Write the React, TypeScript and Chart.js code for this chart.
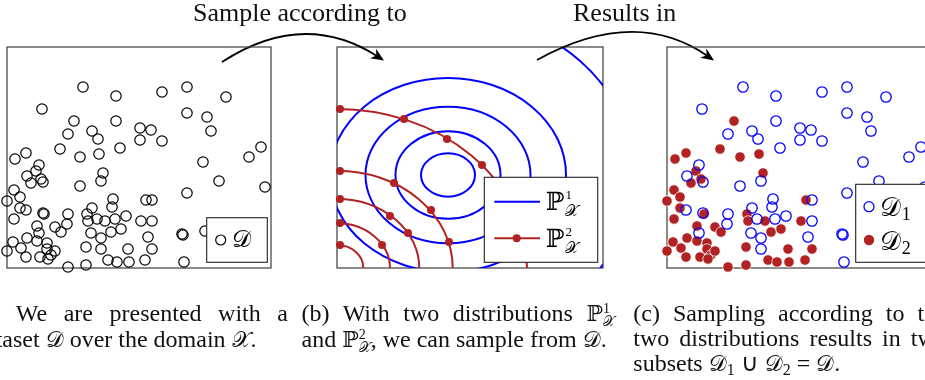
import React, { useEffect, useRef } from "react";
import { Chart, registerables } from "chart.js";
Chart.register(...registerables);

// ---- data (panel units: x 0..264, y 0..221, origin at the bottom-left of each frame) ----
// subset D1 (blue open circles in panel c)
const d1X = [76, 109, 35, 109, 61, 85, 91, 133, 133, 113, 32, 20, 36, 94, 73, 19, 36, 61, 60, 32, 94, 94, 84, 85, 90, 106, 105, 108, 119,
  155, 180, 219, 180, 200, 204, 144, 155, 254, 242, 196, 212, 258, 180, 145, 145, 141, 175, 176, 198, 177];
const d1Y = [181, 172, 159, 147, 134, 137, 129, 140, 128, 120, 103, 92, 86, 87, 82, 58, 55, 54, 44, 35, 19, 30, 35, 60, 49, 69, 61, 49, 52,
  176, 181, 171, 155, 151, 137, 138, 127, 121, 111, 106, 87, 81, 75, 68, 47, 31, 34, 33, 37, 6];
// subset D2 (red filled dots in panel c)
const d2X = [67, 53, 73, 92, 8, 19, 29, 24, 34, 96, 7, 13, 0, 13, 7, 37, 48, 54, 30, 20, 6, 0, 14, 19, 30, 40, 33, 40, 44, 48, 41, 61, 79,
  79, 80, 81, 98, 104, 114, 121, 101, 110, 122, 139, 134, 145, 138];
const d2Y = [147, 119, 111, 114, 109, 115, 97, 85, 89, 95, 78, 71, 67, 60, 49, 54, 41, 36, 42, 30, 26, 17, 20, 11, 27, 25, 11, 19, 13, 17, 9, 1, 3,
  21, 54, 47, 47, 36, 39, 19, 8, 6, 6, 68, 47, 19, 8];

// distribution P1 (blue contours) and P2 (red contours), panel b units (x 0..266, y 0..221)
const p1Center = [111, 93];
const p1RadX = [27, 52.5, 82.5, 118, 186];
const p1RadY = [21.7, 43.8, 68.3, 97, 162];
const p2Center = [0, 0];
const p2RadX = [26.3, 53, 82.3, 115.7, 190];
const p2RadY = [23, 44.7, 69, 97.3, 159];
const p2MarkX = [3, 67, 110, 145, 3, 57, 94, 112, 3, 53, 71, 3, 45, 3];
const p2MarkY = [159, 149, 129, 103, 97, 85, 58, 26, 69, 52, 35, 45, 23, 23];

const BLUE = "#0000ff";
const RED = "#b22222";
const SERIF = "'Liberation Serif', 'Times New Roman', serif";
const MATH = "'DejaVu Serif', 'DejaVu Sans', serif";

const pts = (xs: number[], ys: number[]) => xs.map((x, i) => ({ x, y: ys[i] }));

const CW = 945, CH = 380;

function baseOptions(box: { l: number; t: number; r: number; b: number }, xMax: number) {
  return {
    responsive: false,
    animation: false as const,
    devicePixelRatio: 1,
    events: [] as any[],
    layout: { padding: { left: box.l, top: box.t, right: CW - box.r, bottom: CH - box.b } },
    plugins: { legend: { display: false }, tooltip: { enabled: false } },
    scales: {
      x: { type: "linear" as const, min: 0, max: xMax, display: false },
      y: { type: "linear" as const, min: 0, max: 221, display: false },
    },
  };
}

const framePlugin = {
  id: "frame",
  beforeDatasetsDraw(chart: any) {
    const { ctx, chartArea: a } = chart;
    ctx.save();
    ctx.strokeStyle = "#3c3c3c";
    ctx.lineWidth = 1.2;
    ctx.strokeRect(a.left, a.top, a.right - a.left, a.bottom - a.top);
    ctx.restore();
  },
};

function box(ctx: CanvasRenderingContext2D, l: number, t: number, w: number, h: number) {
  ctx.fillStyle = "#fff";
  ctx.fillRect(l, t, w, h);
  ctx.strokeStyle = "#222";
  ctx.lineWidth = 1.1;
  ctx.strokeRect(l, t, w, h);
}

function mathP(ctx: CanvasRenderingContext2D, x: number, base: number, sup: string) {
  ctx.fillStyle = "#000";
  ctx.textAlign = "left";
  ctx.textBaseline = "alphabetic";
  ctx.font = `25px ${MATH}`;
  ctx.fillText("ℙ", x, base);
  const w = ctx.measureText("ℙ").width;
  ctx.font = `13px ${SERIF}`;
  ctx.fillText(sup, x + w + 1, base - 11);
  ctx.font = `16px ${MATH}`;
  ctx.fillText("𝒳", x + w, base + 6);
}

function mathD(ctx: CanvasRenderingContext2D, x: number, base: number, size: number, sub?: string) {
  ctx.fillStyle = "#000";
  ctx.textAlign = "left";
  ctx.textBaseline = "alphabetic";
  ctx.font = `${size}px ${MATH}`;
  ctx.fillText("𝒟", x, base);
  if (sub) {
    const w = ctx.measureText("𝒟").width;
    ctx.font = `${Math.round(size * 0.68)}px ${SERIF}`;
    ctx.fillText(sub, x + w + 1, base + 4);
  }
}

const legendA = {
  id: "legendA",
  afterDatasetsDraw(chart: any) {
    const { ctx, chartArea: a } = chart;
    ctx.save();
    const L = a.right - 64.3, T = a.bottom - 50.3;
    box(ctx, L, T, 60.6, 44.6);
    ctx.beginPath();
    ctx.arc(L + 14, T + 22.3, 5, 0, Math.PI * 2);
    ctx.strokeStyle = "#000";
    ctx.lineWidth = 1.2;
    ctx.stroke();
    mathD(ctx, L + 25, T + 29, 24);
    ctx.restore();
  },
};

const legendC = {
  id: "legendC",
  afterDatasetsDraw(chart: any) {
    const { ctx, chartArea: a } = chart;
    ctx.save();
    const L = a.left + 188.7, T = a.top + 137.3;
    box(ctx, L, T, 80, 78);
    ctx.beginPath();
    ctx.arc(L + 13.3, T + 22.4, 5, 0, Math.PI * 2);
    ctx.strokeStyle = BLUE;
    ctx.lineWidth = 1.3;
    ctx.stroke();
    ctx.beginPath();
    ctx.arc(L + 13.3, T + 55.7, 5.2, 0, Math.PI * 2);
    ctx.fillStyle = RED;
    ctx.fill();
    mathD(ctx, L + 24, T + 32, 26, "1");
    mathD(ctx, L + 24, T + 66, 26, "2");
    ctx.restore();
  },
};

const contours = {
  id: "contours",
  beforeDatasetsDraw(chart: any) {
    const { ctx, chartArea: a, scales } = chart;
    const xs = scales.x, ys = scales.y;
    ctx.save();
    ctx.beginPath();
    ctx.rect(a.left, a.top, a.right - a.left, a.bottom - a.top);
    ctx.clip();
    const draw = (c: number[], rxs: number[], rys: number[], color: string) => {
      const cx = xs.getPixelForValue(c[0]);
      const cy = ys.getPixelForValue(c[1]);
      rxs.forEach((r, i) => {
        const rx = xs.getPixelForValue(c[0] + r) - cx;
        const ry = cy - ys.getPixelForValue(c[1] + rys[i]);
        ctx.beginPath();
        ctx.ellipse(cx, cy, rx, ry, 0, 0, Math.PI * 2);
        ctx.strokeStyle = color;
        ctx.lineWidth = 2;
        ctx.stroke();
      });
    };
    draw(p1Center, p1RadX, p1RadY, BLUE);
    draw(p2Center, p2RadX, p2RadY, RED);
    ctx.restore();
  },
};

const legendB = {
  id: "legendB",
  afterDatasetsDraw(chart: any) {
    const { ctx, chartArea: a } = chart;
    ctx.save();
    const L = a.right - 118.7, T = a.bottom - 90.7;
    box(ctx, L, T, 113.4, 85);
    ctx.lineWidth = 2;
    ctx.strokeStyle = BLUE;
    ctx.beginPath();
    ctx.moveTo(L + 10, T + 24.4);
    ctx.lineTo(L + 55.7, T + 24.4);
    ctx.stroke();
    ctx.strokeStyle = RED;
    ctx.beginPath();
    ctx.moveTo(L + 10, T + 61);
    ctx.lineTo(L + 55.7, T + 61);
    ctx.stroke();
    ctx.beginPath();
    ctx.arc(L + 32.4, T + 61, 4, 0, Math.PI * 2);
    ctx.fillStyle = RED;
    ctx.fill();
    mathP(ctx, L + 61.5, T + 32.7, "1");
    mathP(ctx, L + 61.5, T + 69.4, "2");
    ctx.restore();
  },
};

function arrow(ctx: CanvasRenderingContext2D, p0: number[], c: number[], p2: number[]) {
  const ang = Math.atan2(p2[1] - c[1], p2[0] - c[0]);
  const L = 13, Wd = 5.5;
  const ux = Math.cos(ang), uy = Math.sin(ang);
  ctx.strokeStyle = "#000";
  ctx.lineWidth = 1.8;
  ctx.beginPath();
  ctx.moveTo(p0[0], p0[1]);
  ctx.quadraticCurveTo(c[0], c[1], p2[0] - ux * 8, p2[1] - uy * 8);
  ctx.stroke();
  ctx.fillStyle = "#000";
  ctx.beginPath();
  ctx.moveTo(p2[0], p2[1]);
  ctx.lineTo(p2[0] - ux * L - uy * Wd, p2[1] - uy * L + ux * Wd);
  ctx.lineTo(p2[0] - ux * L * 0.7, p2[1] - uy * L * 0.7);
  ctx.lineTo(p2[0] - ux * L + uy * Wd, p2[1] - uy * L - ux * Wd);
  ctx.closePath();
  ctx.fill();
}

const arrows = {
  id: "arrows",
  afterDraw(chart: any) {
    const { ctx } = chart;
    ctx.save();
    arrow(ctx, [222, 62], [303.5, 9], [384, 60.5]);
    arrow(ctx, [537, 60], [635, 6], [714, 60.5]);
    ctx.restore();
  },
};

const cap: React.CSSProperties = {
  position: "absolute",
  fontFamily: SERIF,
  fontSize: 24,
  lineHeight: "24px",
  whiteSpace: "nowrap",
  color: "#111",
};
const just: React.CSSProperties = { textAlign: "justify", textAlignLast: "justify" as any, whiteSpace: "normal" };

const M = ({ children }: { children: React.ReactNode }) => (
  <span style={{ fontFamily: MATH, fontSize: 22 }}>{children}</span>
);
const PX = ({ n }: { n: string }) => (
  <span style={{ whiteSpace: "nowrap" }}>
    <span style={{ fontFamily: MATH, fontSize: 22 }}>ℙ</span>
    <span style={{ display: "inline-block", verticalAlign: "-5px", fontSize: 14, lineHeight: "13px", textAlign: "left" }}>
      <span style={{ display: "block", fontFamily: SERIF }}>{n}</span>
      <span style={{ display: "block", fontFamily: MATH }}>𝒳</span>
    </span>
  </span>
);
const Sub = ({ n }: { n: string }) => (
  <span style={{ fontSize: 16, verticalAlign: "-4px" }}>{n}</span>
);

export default function App() {
  const ra = useRef<HTMLCanvasElement>(null);
  const rb = useRef<HTMLCanvasElement>(null);
  const rc = useRef<HTMLCanvasElement>(null);

  useEffect(() => {
    const allPts = pts(d1X, d1Y).concat(pts(d2X, d2Y));
    const chartA = new Chart(ra.current!, {
      type: "scatter",
      data: {
        datasets: [
          {
            data: allPts,
            pointRadius: 5.2,
            pointBorderWidth: 1.2,
            pointBorderColor: "#000",
            pointBackgroundColor: "rgba(0,0,0,0)",
            clip: false as any,
          },
        ],
      },
      options: baseOptions({ l: 7, t: 47, r: 271, b: 268 }, 264) as any,
      plugins: [framePlugin, legendA],
    });
    const chartB = new Chart(rb.current!, {
      type: "scatter",
      data: {
        datasets: [
          {
            data: pts(p2MarkX, p2MarkY),
            pointRadius: 4,
            pointBorderWidth: 0,
            pointBackgroundColor: RED,
            clip: false as any,
          },
        ],
      },
      options: baseOptions({ l: 337, t: 47, r: 603, b: 268 }, 266) as any,
      plugins: [framePlugin, contours, legendB, arrows],
    });
    const chartC = new Chart(rc.current!, {
      type: "scatter",
      data: {
        datasets: [
          {
            data: pts(d1X, d1Y),
            pointRadius: 5.2,
            pointBorderWidth: 1.3,
            pointBorderColor: BLUE,
            pointBackgroundColor: "rgba(0,0,0,0)",
            clip: false as any,
          },
          {
            data: pts(d2X, d2Y),
            pointRadius: 5.2,
            pointBorderWidth: 0.8,
            pointBorderColor: "rgba(255,255,255,0.9)",
            pointBackgroundColor: RED,
            clip: false as any,
          },
        ],
      },
      options: baseOptions({ l: 667, t: 47, r: 931, b: 268 }, 264) as any,
      plugins: [framePlugin, legendC],
    });
    return () => {
      chartA.destroy();
      chartB.destroy();
      chartC.destroy();
    };
  }, []);

  const cv: React.CSSProperties = { position: "absolute", left: 0, top: 0 };

  return (
    <div style={{ position: "fixed", left: 0, top: 0, width: 925, height: 380, overflow: "hidden", background: "#fff" }}>
      <canvas ref={rb} width={CW} height={CH} style={cv} />
      <canvas ref={ra} width={CW} height={CH} style={cv} />
      <canvas ref={rc} width={CW} height={CH} style={cv} />

      <div style={{ ...cap, fontSize: 26, lineHeight: "26px", left: 193, top: 0 }}>Sample according to</div>
      <div style={{ ...cap, fontSize: 26, lineHeight: "26px", left: 573, top: 0 }}>Results in</div>

      <div style={{ ...cap, ...just, left: -27, width: 315, top: 301 }}>(a) We are presented with a</div>
      <div style={{ ...cap, left: -27, top: 327 }}>
        dataset <M>𝒟</M> over the domain <M>𝒳</M>.
      </div>

      <div style={{ ...cap, ...just, left: 301.5, width: 313.5, top: 301 }}>
        (b) With two distributions <PX n="1" />
      </div>
      <div style={{ ...cap, left: 301.5, top: 327 }}>
        and <PX n="2" />, we can sample from <M>𝒟</M>.
      </div>

      <div style={{ ...cap, ...just, left: 633.3, width: 313.5, top: 301 }}>(c) Sampling according to the</div>
      <div style={{ ...cap, ...just, left: 633.3, width: 313.5, top: 326 }}>two distributions results in two</div>
      <div style={{ ...cap, left: 633.3, top: 351 }}>
        subsets <M>𝒟</M>
        <Sub n="1" /> ∪ <M>𝒟</M>
        <Sub n="2" /> = <M>𝒟</M>.
      </div>
    </div>
  );
}
